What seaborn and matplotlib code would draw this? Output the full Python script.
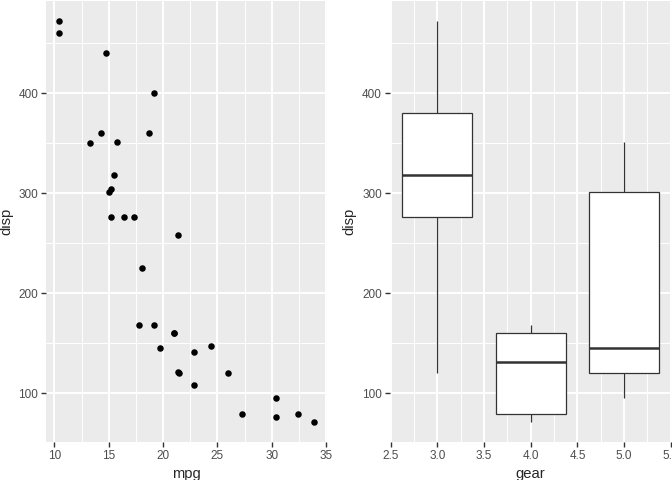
import numpy as np
import pandas as pd
import seaborn as sns
import matplotlib.pyplot as plt
from matplotlib.ticker import MultipleLocator, FormatStrFormatter

# mtcars: mpg, disp, gear
mpg = [21.0, 21.0, 22.8, 21.4, 18.7, 18.1, 14.3, 24.4, 22.8, 19.2, 17.8,
       16.4, 17.3, 15.2, 10.4, 10.4, 14.7, 32.4, 30.4, 33.9, 21.5, 15.5,
       15.2, 13.3, 19.2, 27.3, 26.0, 30.4, 15.8, 19.7, 15.0, 21.4]
disp = [160, 160, 108, 258, 360, 225, 360, 146.7, 140.8, 167.6, 167.6,
        275.8, 275.8, 275.8, 472, 460, 440, 78.7, 75.7, 71.1, 120.1, 318,
        304, 350, 400, 79, 120.3, 95.1, 351, 145, 301, 121]
gear = [4, 4, 4, 3, 3, 3, 3, 4, 4, 4, 4, 3, 3, 3, 3, 3, 3, 4, 4, 4, 3, 3,
        3, 3, 3, 4, 5, 5, 5, 5, 5, 4]

df = pd.DataFrame({"mpg": mpg, "disp": disp, "gear": gear})

sns.set_theme(style="darkgrid")
plt.rcParams["font.family"] = ["Liberation Sans", "DejaVu Sans"]

BG = "#EBEBEB"
TICK = "#4D4D4D"


def style_axes(ax, xmaj, xmin):
    ax.set_facecolor(BG)
    for s in ax.spines.values():
        s.set_visible(False)
    ax.xaxis.set_major_locator(MultipleLocator(xmaj))
    ax.xaxis.set_minor_locator(MultipleLocator(xmin))
    ax.yaxis.set_major_locator(MultipleLocator(100))
    ax.yaxis.set_minor_locator(MultipleLocator(50))
    ax.grid(which="major", color="white", linewidth=1.4)
    ax.grid(which="minor", color="white", linewidth=0.7)
    ax.set_axisbelow(True)
    ax.tick_params(which="major", length=3.5, width=1.0, color="#333333",
                   labelsize=8.5, labelcolor=TICK, pad=2, bottom=True, left=True)
    ax.tick_params(which="minor", length=0)
    ax.set_ylim(51.05, 492.05)
    ax.xaxis.label.set_size(10.6)
    ax.yaxis.label.set_size(10.6)


fig = plt.figure(figsize=(6.72, 4.8), dpi=100)
ax1 = fig.add_axes([46 / 672, 38 / 480, 281 / 672, 441 / 480])
ax2 = fig.add_axes([389.5 / 672, 38 / 480, 282.5 / 672, 441 / 480])

sns.scatterplot(data=df, x="mpg", y="disp", ax=ax1, color="black",
                s=22, linewidth=0)
style_axes(ax1, 5, 2.5)
ax1.set_xlim(9.225, 35.075)

sns.boxplot(data=df, x="gear", y="disp", ax=ax2, native_scale=True,
            width=0.75, color="white", fill=True, linecolor="#333333",
            linewidth=0.9, whis=1.5,
            medianprops={"linewidth": 1.8, "color": "#333333"},
            capprops={"visible": False})
for p in ax2.patches:
    p.set_facecolor("white")
style_axes(ax2, 0.5, 0.25)
ax2.set_xlim(2.4875, 5.5125)
ax2.xaxis.set_major_formatter(FormatStrFormatter("%.1f"))

fig.savefig("out.png", dpi=100)
